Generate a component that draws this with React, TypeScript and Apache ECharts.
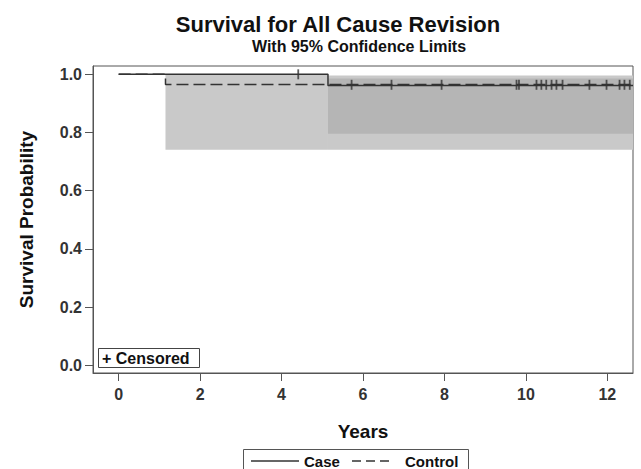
import React, { useEffect, useRef } from "react";
import * as echarts from "echarts";

// Kaplan-Meier step data
const caseTimes = [0, 5.14, 12.63];
const caseSurv = [1.0, 0.962, 0.962];
const controlTimes = [0, 1.15, 12.63];
const controlSurv = [1.0, 0.965, 0.965];

// Censored observations (years)
const caseCensorTimes = [4.41];
const caseCensorSurv = [1.0];
const controlCensorTimes = [5.72, 6.7, 7.93, 9.77, 9.83, 10.26, 10.38, 10.5, 10.63, 10.75, 10.9, 11.56, 11.98, 12.3, 12.42, 12.55];
const controlCensorSurv = [0.964, 0.964, 0.964, 0.964, 0.964, 0.964, 0.964, 0.964, 0.964, 0.964, 0.964, 0.964, 0.964, 0.964, 0.964, 0.964];

// Confidence bands: [start, end, lower, upper]
const controlBand = [
  [1.15, 5.14, 0.741, 1.0],
  [5.14, 12.63, 0.741, 0.996],
];
const caseBand = [[5.14, 12.63, 0.796, 0.986]];

const yTicks = [0, 0.2, 0.4, 0.6, 0.8, 1.0];
const xTicks = [0, 2, 4, 6, 8, 10, 12];

const FONT = "'Liberation Sans', Arial, sans-serif";
const DARK = "#333333";

function bandRender(color: string) {
  return (params: any, api: any) => {
    const p0 = api.coord([api.value(0), api.value(3)]);
    const p1 = api.coord([api.value(1), api.value(2)]);
    const shape = echarts.graphic.clipRectByRect(
      { x: p0[0], y: p0[1], width: p1[0] - p0[0], height: p1[1] - p0[1] },
      {
        x: params.coordSys.x,
        y: params.coordSys.y,
        width: params.coordSys.width,
        height: params.coordSys.height,
      }
    );
    return shape && { type: "rect", shape, style: { fill: color } };
  };
}

export default function App() {
  const ref = useRef<HTMLDivElement>(null);
  useEffect(() => {
    if (!ref.current) return;
    const chart = echarts.init(ref.current, null, { renderer: "svg" });
    chart.setOption({
      animation: false,
      backgroundColor: "#ffffff",
      grid: {
        left: 93,
        right: 8,
        top: 66,
        bottom: 96,
        show: true,
        borderColor: "#555555",
        borderWidth: 1,
        containLabel: false,
      },
      xAxis: {
        type: "value",
        min: -0.63,
        max: 12.63,
        name: "Years",
        nameLocation: "middle",
        nameGap: 49,
        nameTextStyle: { fontFamily: FONT, fontWeight: "bold", fontSize: 19, color: "#111" },
        axisLine: { show: true, onZero: false, lineStyle: { color: "#555" } },
        axisTick: { show: true, length: 8, customValues: xTicks, lineStyle: { color: "#555" } },
        axisLabel: {
          customValues: xTicks,
          fontFamily: FONT,
          fontWeight: "bold",
          fontSize: 16,
          color: DARK,
          margin: 13,
        },
        splitLine: { show: false },
      },
      yAxis: {
        type: "value",
        min: -0.0265,
        max: 1.0286,
        name: "Survival Probability",
        nameLocation: "middle",
        nameGap: 57,
        nameTextStyle: { fontFamily: FONT, fontWeight: "bold", fontSize: 19, color: "#111" },
        axisLine: { show: true, onZero: false, lineStyle: { color: "#555" } },
        axisTick: { show: true, length: 8, customValues: yTicks, lineStyle: { color: "#555" } },
        axisLabel: {
          customValues: yTicks,
          formatter: (v: number) => v.toFixed(1),
          fontFamily: FONT,
          fontWeight: "bold",
          fontSize: 16,
          color: DARK,
          margin: 11,
        },
        splitLine: { show: false },
      },
      series: [
        {
          type: "custom",
          name: "Control band",
          renderItem: bandRender("#c9c9c9"),
          data: controlBand,
          encode: { x: [0, 1], y: [2, 3] },
          silent: true,
          z: 1,
        },
        {
          type: "custom",
          name: "Case band",
          renderItem: bandRender("#b5b5b5"),
          data: caseBand,
          encode: { x: [0, 1], y: [2, 3] },
          silent: true,
          z: 2,
        },
        {
          type: "line",
          name: "Control",
          step: "end",
          showSymbol: false,
          data: controlTimes.map((t, i) => [t, controlSurv[i]]),
          lineStyle: { color: DARK, width: 1.5, type: [12, 5] },
          z: 3,
        },
        {
          type: "line",
          name: "Case",
          step: "end",
          showSymbol: false,
          data: caseTimes.map((t, i) => [t, caseSurv[i]]),
          lineStyle: { color: DARK, width: 1.5 },
          z: 4,
        },
        {
          type: "scatter",
          name: "Case censored",
          symbol: "rect",
          symbolSize: [1.8, 10],
          itemStyle: { color: DARK },
          data: caseCensorTimes.map((t, i) => [t, caseCensorSurv[i]]),
          z: 5,
        },
        {
          type: "scatter",
          name: "Control censored",
          symbol: "rect",
          symbolSize: [1.8, 10],
          itemStyle: { color: DARK },
          data: controlCensorTimes.map((t, i) => [t, controlCensorSurv[i]]),
          z: 5,
        },
      ],
      graphic: [
        {
          type: "text",
          x: 338,
          y: 24,
          style: {
            text: "Survival for All Cause Revision",
            font: `bold 22px ${FONT}`,
            fill: "#111",
            textAlign: "center",
            textVerticalAlign: "middle",
          },
        },
        {
          type: "text",
          x: 359,
          y: 46,
          style: {
            text: "With 95% Confidence Limits",
            font: `bold 16px ${FONT}`,
            fill: "#111",
            textAlign: "center",
            textVerticalAlign: "middle",
          },
        },
        {
          type: "group",
          z: 100,
          children: [
            {
              type: "rect",
              shape: { x: 98.5, y: 348.5, width: 101, height: 19 },
              style: { fill: "#fff", stroke: "#444", lineWidth: 1 },
            },
            {
              type: "text",
              x: 102,
              y: 358.5,
              style: {
                text: "+ Censored",
                font: `bold 16px ${FONT}`,
                fill: "#111",
                textVerticalAlign: "middle",
              },
            },
          ],
        },
        {
          type: "group",
          children: [
            {
              type: "rect",
              shape: { x: 243.5, y: 449.5, width: 225, height: 30 },
              style: { fill: "#fff", stroke: "#555", lineWidth: 1 },
            },
            {
              type: "line",
              shape: { x1: 251, y1: 461, x2: 299, y2: 461 },
              style: { stroke: DARK, lineWidth: 1.3 },
            },
            {
              type: "text",
              x: 304,
              y: 461,
              style: { text: "Case", font: `bold 15px ${FONT}`, fill: "#111", textVerticalAlign: "middle" },
            },
            {
              type: "line",
              shape: { x1: 352, y1: 461, x2: 390, y2: 461 },
              style: { stroke: DARK, lineWidth: 1.3, lineDash: [9, 5] },
            },
            {
              type: "text",
              x: 405,
              y: 461,
              style: { text: "Control", font: `bold 15px ${FONT}`, fill: "#111", textVerticalAlign: "middle" },
            },
          ],
        },
      ],
    });
    return () => chart.dispose();
  }, []);
  return (
    <div
      ref={ref}
      style={{ position: "absolute", left: 0, top: 0, width: 641, height: 469 }}
    />
  );
}
